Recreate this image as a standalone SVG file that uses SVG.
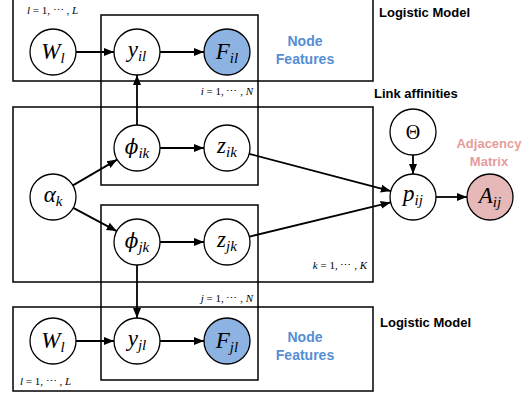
<svg xmlns="http://www.w3.org/2000/svg" width="529" height="396" viewBox="0 0 529 396">
<style>
.plate{fill:none;stroke:#000;stroke-width:1.5}
.nd{fill:#fff;stroke:#000;stroke-width:1.3}
.obs{fill:#8DB3E2;stroke:#000;stroke-width:1.3}
.adj{fill:#E6B9B8;stroke:#000;stroke-width:1.3}
.m{font-family:"Liberation Serif","DejaVu Serif",serif;font-style:italic;font-size:23px;text-anchor:middle}
.s{font-size:15px}
.ph{font-family:"DejaVu Serif",serif;font-size:20px}
.up{font-style:normal;font-size:20px}
.pl{font-family:"Liberation Serif","DejaVu Serif",serif;font-size:11px}
.pl .i{font-style:italic}
.lbl{font-family:"Liberation Sans",Arial,sans-serif;font-weight:bold;font-size:13px}
.blue{fill:#558ED5;text-anchor:middle;font-size:14px}
.pink{fill:#E59C9C;text-anchor:middle}
.ed{stroke:#000;stroke-width:1.8;fill:none;marker-end:url(#ah)}
</style>
<defs>
<marker id="ah" markerUnits="userSpaceOnUse" markerWidth="10" markerHeight="10" viewBox="0 0 10 10" refX="10" refY="5" orient="auto">
<path d="M0,1 L10,5 L0,9 z" fill="#000"/>
</marker>
</defs>
<rect width="529" height="396" fill="#fff"/>
<g id="plates">
<rect id="plate-top" class="plate" x="13" y="-3" width="360" height="84"/>
<rect id="plate-i" class="plate" x="101" y="15" width="157" height="170"/>
<rect id="plate-k" class="plate" x="13" y="107" width="360" height="175"/>
<rect id="plate-j" class="plate" x="101" y="205" width="157" height="175"/>
<rect id="plate-bottom" class="plate" x="13" y="307" width="360" height="84"/>
<text class="pl" x="27" y="14"><tspan class="i">l</tspan> = 1, ⋯ , <tspan class="i">L</tspan></text>
<text class="pl" x="253" y="95" text-anchor="end"><tspan class="i">i</tspan> = 1, ⋯ , <tspan class="i">N</tspan></text>
<text class="pl" x="367" y="269" text-anchor="end"><tspan class="i">k</tspan> = 1, ⋯ , <tspan class="i">K</tspan></text>
<text class="pl" x="253" y="302" text-anchor="end"><tspan class="i">j</tspan> = 1, ⋯ , <tspan class="i">N</tspan></text>
<text class="pl" x="20" y="385"><tspan class="i">l</tspan> = 1, ⋯ , <tspan class="i">L</tspan></text>
</g>
<g id="connectors">
<line class="ed" x1="76" y1="52" x2="114" y2="52"/>
<line class="ed" x1="160" y1="52" x2="204" y2="52"/>
<line class="ed" x1="137" y1="125" x2="137" y2="75"/>
<line class="ed" x1="160" y1="148" x2="204" y2="148"/>
<line class="ed" x1="72.9" y1="185.4" x2="117.1" y2="159.6"/>
<line class="ed" x1="73.3" y1="207.9" x2="116.7" y2="231.1"/>
<line class="ed" x1="160" y1="242" x2="204" y2="242"/>
<line class="ed" x1="137" y1="265" x2="137" y2="318"/>
<line class="ed" x1="76" y1="341" x2="114" y2="341"/>
<line class="ed" x1="160" y1="341" x2="204" y2="341"/>
<line class="ed" x1="249.2" y1="153.9" x2="390.8" y2="191.1"/>
<line class="ed" x1="249.4" y1="236.6" x2="390.6" y2="202.4"/>
<line class="ed" x1="413" y1="155" x2="413" y2="174"/>
<line class="ed" x1="436" y1="197" x2="467" y2="197"/>
</g>
<g id="W-top"><circle class="nd" cx="53" cy="52" r="23"/><text class="m" x="53" y="59">W<tspan class="s" dy="4">l</tspan></text></g>
<g id="y-il"><circle class="nd" cx="137" cy="52" r="23"/><text class="m" x="137" y="57">y<tspan class="s" dy="4">il</tspan></text></g>
<g id="F-il"><circle class="obs" cx="227" cy="52" r="23"/><text class="m" x="227" y="59">F<tspan class="s" dy="4">il</tspan></text></g>
<g id="phi-ik"><circle class="nd" cx="137" cy="148" r="23"/><text class="m" x="137" y="154"><tspan class="ph">ϕ</tspan><tspan class="s" dy="4">ik</tspan></text></g>
<g id="z-ik"><circle class="nd" cx="227" cy="148" r="23"/><text class="m" x="227" y="153">z<tspan class="s" dy="4">ik</tspan></text></g>
<g id="alpha-k"><circle class="nd" cx="53" cy="197" r="23"/><text class="m" x="53" y="202">α<tspan class="s" dy="4">k</tspan></text></g>
<g id="phi-jk"><circle class="nd" cx="137" cy="242" r="23"/><text class="m" x="137" y="248"><tspan class="ph">ϕ</tspan><tspan class="s" dy="4">jk</tspan></text></g>
<g id="z-jk"><circle class="nd" cx="227" cy="242" r="23"/><text class="m" x="227" y="247">z<tspan class="s" dy="4">jk</tspan></text></g>
<g id="theta"><circle class="nd" cx="413" cy="132" r="23"/><text class="m up" x="413" y="139">Θ</text></g>
<g id="p-ij"><circle class="nd" cx="413" cy="197" r="23"/><text class="m" x="413" y="201">p<tspan class="s" dy="4">ij</tspan></text></g>
<g id="A-ij"><circle class="adj" cx="490" cy="197" r="23"/><text class="m" x="490" y="203">A<tspan class="s" dy="4">ij</tspan></text></g>
<g id="W-bottom"><circle class="nd" cx="53" cy="341" r="23"/><text class="m" x="53" y="348">W<tspan class="s" dy="4">l</tspan></text></g>
<g id="y-jl"><circle class="nd" cx="137" cy="341" r="23"/><text class="m" x="137" y="346">y<tspan class="s" dy="4">jl</tspan></text></g>
<g id="F-jl"><circle class="obs" cx="227" cy="341" r="23"/><text class="m" x="227" y="348">F<tspan class="s" dy="4">jl</tspan></text></g>
<g id="labels">
<text class="lbl" x="379" y="17">Logistic Model</text>
<text class="lbl blue" x="305" y="46">Node</text>
<text class="lbl blue" x="305" y="64">Features</text>
<text class="lbl" x="374" y="98">Link affinities</text>
<text class="lbl pink" x="489" y="148">Adjacency</text>
<text class="lbl pink" x="489" y="166">Matrix</text>
<text class="lbl" x="380" y="327">Logistic Model</text>
<text class="lbl blue" x="305" y="342">Node</text>
<text class="lbl blue" x="305" y="360">Features</text>
</g>
</svg>
